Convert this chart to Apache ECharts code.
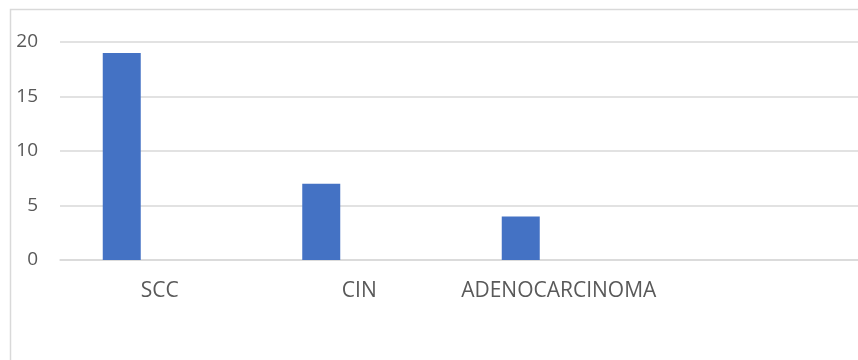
<!DOCTYPE html>
<html>
<head>
<meta charset="utf-8">
<style>
  html, body { margin: 0; padding: 0; background: #fff; }
  #chart { width: 858px; height: 360px; }
</style>
<script src="https://cdn.jsdelivr.net/npm/echarts@6/dist/echarts.min.js"></script>
</head>
<body>
<div id="chart"></div>
<script>
// Case counts by diagnosis
const categories = ['SCC', 'CIN', 'ADENOCARCINOMA', ''];
const series1 = [19, 7, 4, null];
const series2 = [null, null, null, null];
const series3 = [null, null, null, null];
const yTicks = { min: 0, max: 20, interval: 5 };

const textColor = '#595959';
const gridColor = '#d9d9d9';
const font = '"Open Sans", "Noto Sans", sans-serif';

const chart = echarts.init(document.getElementById('chart'), null, { renderer: 'canvas' });

const barStyle = { color: '#4472C4' };

chart.setOption({
  animation: false,
  backgroundColor: '#ffffff',
  graphic: [{
    type: 'rect',
    shape: { x: 10.5, y: 9.5, width: 900, height: 400 },
    style: { fill: null, stroke: gridColor, lineWidth: 1.5 },
    silent: true
  }],
  grid: { left: 60, top: 42, bottom: 100, right: -2 },
  xAxis: {
    type: 'category',
    data: categories,
    axisLine: { show: true, lineStyle: { color: gridColor, width: 1.5 } },
    axisTick: { show: false },
    axisLabel: { color: textColor, fontFamily: font, fontSize: 21, margin: 21, interval: 0 },
    splitLine: { show: false }
  },
  yAxis: {
    type: 'value',
    min: yTicks.min,
    max: yTicks.max,
    interval: yTicks.interval,
    axisLine: { show: false },
    axisTick: { show: false },
    axisLabel: { color: textColor, fontFamily: font, fontSize: 19, margin: 22 },
    splitLine: { show: true, lineStyle: { color: gridColor, width: 1.5 } }
  },
  series: [
    { name: 'Series1', type: 'bar', data: series1, barWidth: 38, barGap: '0%', itemStyle: barStyle },
    { name: 'Series2', type: 'bar', data: series2, barWidth: 38, barGap: '0%' },
    { name: 'Series3', type: 'bar', data: series3, barWidth: 38, barGap: '0%' }
  ]
});
</script>
</body>
</html>
